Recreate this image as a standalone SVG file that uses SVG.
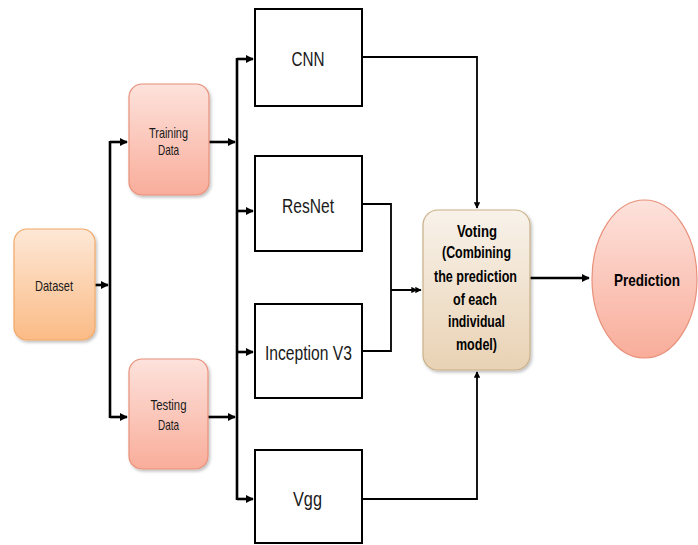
<svg xmlns="http://www.w3.org/2000/svg" width="698" height="545" viewBox="0 0 698 545">
<style>
.box{fill:#fff;stroke:#000;stroke-width:2}
.t{font-family:"Liberation Sans",Arial,sans-serif;fill:#1a1a1a;text-anchor:middle}
.b{font-weight:bold;fill:#000}
.c{fill:none;stroke:#000;stroke-width:2.6}
.c2{fill:none;stroke:#000;stroke-width:1.8}
</style>
<defs>
<linearGradient id="gOr" x1="0" y1="0" x2="0" y2="1"><stop offset="0" stop-color="#fde8d6"/><stop offset="1" stop-color="#fbbb86"/></linearGradient>
<linearGradient id="gRed" x1="0" y1="0" x2="0" y2="1"><stop offset="0" stop-color="#fde2dc"/><stop offset="1" stop-color="#f9ad9a"/></linearGradient>
<linearGradient id="gTan" x1="0" y1="0" x2="0" y2="1"><stop offset="0" stop-color="#f8f2ea"/><stop offset="1" stop-color="#e9d2b4"/></linearGradient>
<marker id="ah" viewBox="0 0 10 10" refX="9" refY="5" markerWidth="3.2" markerHeight="3.2" orient="auto" markerUnits="strokeWidth"><path d="M0,0 L10,5 L0,10 z" fill="#000"/></marker>
<marker id="ah2" viewBox="0 0 10 10" refX="9" refY="5" markerWidth="3.5" markerHeight="3.5" orient="auto" markerUnits="strokeWidth"><path d="M0,0 L10,5 L0,10 z" fill="#000"/></marker>
<filter id="sh" x="-20%" y="-20%" width="140%" height="140%"><feDropShadow dx="1.5" dy="2" stdDeviation="1.5" flood-color="#000" flood-opacity="0.25"/></filter>
</defs>

<g id="connectors">
<path class="c" d="M95,285 H108" marker-end="url(#ah)"/>
<path class="c" d="M110,141 V418"/>
<path class="c" d="M110,142 H127" marker-end="url(#ah)"/>
<path class="c" d="M110,417 H127" marker-end="url(#ah)"/>
<path class="c" d="M209,142 H235" marker-end="url(#ah)"/>
<path class="c" d="M208,417 H235" marker-end="url(#ah)"/>
<path class="c" d="M237,58 V500"/>
<path class="c" d="M237,59 H253" marker-end="url(#ah)"/>
<path class="c" d="M237,211 H253" marker-end="url(#ah)"/>
<path class="c" d="M237,352 H253" marker-end="url(#ah)"/>
<path class="c" d="M237,499 H253" marker-end="url(#ah)"/>
<path class="c2" d="M362,57 H477 V208" marker-end="url(#ah2)"/>
<path class="c2" d="M362,499 H477 V372" marker-end="url(#ah2)"/>
<path class="c2" d="M362,204 H391 V351 H362"/>
<path class="c2" d="M391,290 H421" marker-end="url(#ah2)"/>
<path class="c2" d="M391,290 H417" marker-end="url(#ah2)"/>
<path class="c" d="M530,278 H589" marker-end="url(#ah)"/>
</g>

<g id="dataset">
<rect x="14" y="229" width="81" height="111" rx="13" fill="url(#gOr)" stroke="#f2a866" stroke-width="1.2" filter="url(#sh)"/>
<text class="t" x="54" y="291" font-size="15" textLength="38" lengthAdjust="spacingAndGlyphs">Dataset</text>
</g>

<g id="training">
<rect x="129" y="84" width="80" height="111" rx="13" fill="url(#gRed)" stroke="#e8907a" stroke-width="1.2" filter="url(#sh)"/>
<text class="t" x="168.5" y="138" font-size="14.5" textLength="39" lengthAdjust="spacingAndGlyphs">Training</text>
<text class="t" x="168.5" y="155" font-size="14.5" textLength="21" lengthAdjust="spacingAndGlyphs">Data</text>
</g>

<g id="testing">
<rect x="129" y="359" width="79" height="110" rx="13" fill="url(#gRed)" stroke="#e8907a" stroke-width="1.2" filter="url(#sh)"/>
<text class="t" x="168.5" y="410" font-size="14.5" textLength="36" lengthAdjust="spacingAndGlyphs">Testing</text>
<text class="t" x="168.5" y="430" font-size="14.5" textLength="21" lengthAdjust="spacingAndGlyphs">Data</text>
</g>

<g id="cnn">
<rect class="box" x="255" y="9" width="107" height="97"/>
<text class="t" x="308" y="66" font-size="21" textLength="33" lengthAdjust="spacingAndGlyphs">CNN</text>
</g>

<g id="resnet">
<rect class="box" x="255" y="156" width="107" height="95"/>
<text class="t" x="308" y="213" font-size="21" textLength="52" lengthAdjust="spacingAndGlyphs">ResNet</text>
</g>

<g id="inception">
<rect class="box" x="255" y="304" width="107" height="94"/>
<text class="t" x="308.5" y="360" font-size="21" textLength="87" lengthAdjust="spacingAndGlyphs">Inception V3</text>
</g>

<g id="vgg">
<rect class="box" x="255" y="450" width="107" height="93"/>
<text class="t" x="307.5" y="506" font-size="21" textLength="29" lengthAdjust="spacingAndGlyphs">Vgg</text>
</g>

<g id="voting">
<rect x="423" y="210" width="107" height="160" rx="15" fill="url(#gTan)" stroke="#c9b088" stroke-width="1.2" filter="url(#sh)"/>
<text class="t b" x="477" y="237" font-size="16" textLength="40" lengthAdjust="spacingAndGlyphs">Voting</text>
<text class="t b" x="476.5" y="258" font-size="16" textLength="69" lengthAdjust="spacingAndGlyphs">(Combining</text>
<text class="t b" x="475.5" y="282" font-size="16" textLength="83" lengthAdjust="spacingAndGlyphs">the prediction</text>
<text class="t b" x="475" y="305" font-size="16" textLength="44" lengthAdjust="spacingAndGlyphs">of each</text>
<text class="t b" x="476.5" y="327" font-size="16" textLength="57" lengthAdjust="spacingAndGlyphs">individual</text>
<text class="t b" x="476.5" y="350" font-size="16" textLength="41" lengthAdjust="spacingAndGlyphs">model)</text>
</g>

<g id="prediction">
<ellipse cx="644.5" cy="279" rx="52.5" ry="79" fill="url(#gRed)" stroke="#e8907a" stroke-width="1.2"/>
<text class="t b" x="647" y="286" font-size="17" textLength="66" lengthAdjust="spacingAndGlyphs">Prediction</text>
</g>
</svg>
